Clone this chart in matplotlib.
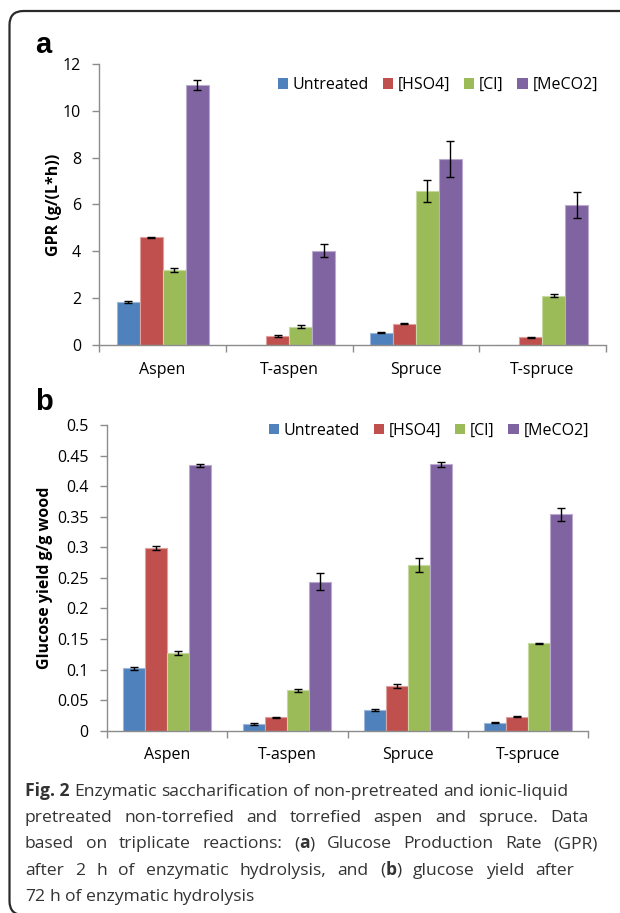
import matplotlib
matplotlib.use("Agg")
import numpy as np
import matplotlib.pyplot as plt
from matplotlib.patches import FancyBboxPatch, Rectangle
from matplotlib.transforms import IdentityTransform
from matplotlib.ticker import MultipleLocator, FuncFormatter

plt.rcParams['font.family'] = ['Open Sans', 'DejaVu Sans']

categories = ["Aspen", "T-aspen", "Spruce", "T-spruce"]
series = ["Untreated", "[HSO4]", "[Cl]", "[MeCO2]"]
colors = ["#4F81BD", "#C0504D", "#9BBB59", "#8064A2"]
edge_colors = ["#9DB7D9", "#E0A09E", "#C6D9A0", "#BBAACF"]

# (a) glucose production rate, g/(L*h)
gpr_untreated = [1.84, 0.02, 0.53, 0.02]
gpr_hso4 = [4.60, 0.38, 0.91, 0.34]
gpr_cl = [3.20, 0.79, 6.56, 2.10]
gpr_meco2 = [11.11, 4.03, 7.93, 5.99]
gpr_err_untreated = [0.03, 0.0, 0.02, 0.0]
gpr_err_hso4 = [0.03, 0.05, 0.02, 0.02]
gpr_err_cl = [0.09, 0.07, 0.47, 0.06]
gpr_err_meco2 = [0.22, 0.27, 0.77, 0.56]

# (b) glucose yield, g/g wood
yld_untreated = [0.102, 0.011, 0.034, 0.013]
yld_hso4 = [0.299, 0.022, 0.073, 0.023]
yld_cl = [0.127, 0.066, 0.271, 0.143]
yld_meco2 = [0.434, 0.244, 0.436, 0.354]
yld_err_untreated = [0.003, 0.002, 0.001, 0.001]
yld_err_hso4 = [0.003, 0.001, 0.003, 0.001]
yld_err_cl = [0.004, 0.003, 0.012, 0.001]
yld_err_meco2 = [0.002, 0.014, 0.004, 0.011]

caption_lines = [
    "*Fig. 2* Enzymatic saccharification of non-pretreated and ionic-liquid",
    "pretreated non-torrefied and torrefied aspen and spruce. Data",
    "based on triplicate reactions: (*a*) Glucose Production Rate (GPR)",
    "after 2 h of enzymatic hydrolysis, and (*b*) glucose yield after",
    "72 h of enzymatic hydrolysis",
]
caption_ends = [None, 588, 598, 574, None]

W, H = 620, 913
gray = "#8C8C8C"
fig = plt.figure(figsize=(W / 100, H / 100), dpi=100)


def fx(x):
    return x / W


def fy(y):
    return 1 - y / H


def make_axes(x0, x1, ytop, ybot):
    return fig.add_axes([fx(x0), fy(ybot), fx(x1 - x0), (ybot - ytop) / H])


def draw_panel(ax, vals, errs, ymax, ystep, fmt):
    x = np.arange(len(categories))
    w = 0.182
    for i, (v, e) in enumerate(zip(vals, errs)):
        pos = x + (i - 1.5) * w
        ax.bar(pos, v, width=w, color=colors[i], edgecolor=edge_colors[i],
               linewidth=0.8, zorder=2)
        m = np.array(e) > 0
        ax.errorbar(pos[m], np.array(v)[m], yerr=np.array(e)[m], fmt='none',
                    ecolor='black', elinewidth=1, capsize=2.6, capthick=1, zorder=3)
    ax.set_xlim(-0.5, 3.5)
    ax.set_ylim(0, ymax)
    ax.yaxis.set_major_locator(MultipleLocator(ystep))
    ax.yaxis.set_major_formatter(FuncFormatter(fmt))
    for s in ["top", "right"]:
        ax.spines[s].set_visible(False)
    for s in ["left", "bottom"]:
        ax.spines[s].set_color(gray)
        ax.spines[s].set_linewidth(1.0)
    ax.set_xticks(x)
    ax.set_xticklabels(categories)
    ax.set_xticks(np.arange(-0.5, 4, 1), minor=True)
    ax.tick_params(axis="x", which="major", length=0, pad=12, labelsize=11.5, colors="#000000")
    ax.tick_params(axis="x", which="minor", length=5, width=1, color=gray)
    ax.tick_params(axis="y", length=5, width=1, color=gray, pad=8, labelsize=11.5)
    handles = [Rectangle((0, 0), 1, 1, fc=c, ec="none") for c in colors]
    return handles


ax1 = make_axes(99.3, 605.7, 64, 345)
h = draw_panel(ax1, [gpr_untreated, gpr_hso4, gpr_cl, gpr_meco2],
               [gpr_err_untreated, gpr_err_hso4, gpr_err_cl, gpr_err_meco2],
               12, 2, lambda v, p: "%d" % v)
ax1.legend(h, series, loc="center right", bbox_to_anchor=(fx(598), fy(85)),
           bbox_transform=fig.transFigure, ncol=4, frameon=False,
           handlelength=0.65, handleheight=0.65, handletextpad=0.3,
           columnspacing=0.85, borderpad=0, borderaxespad=0, fontsize=11.5)

ax2 = make_axes(106.7, 588.3, 425, 730.7)
h = draw_panel(ax2, [yld_untreated, yld_hso4, yld_cl, yld_meco2],
               [yld_err_untreated, yld_err_hso4, yld_err_cl, yld_err_meco2],
               0.5, 0.05, lambda v, p: "%g" % round(v, 2))
ax2.legend(h, series, loc="center right", bbox_to_anchor=(fx(589), fy(430.7)),
           bbox_transform=fig.transFigure, ncol=4, frameon=False,
           handlelength=0.65, handleheight=0.65, handletextpad=0.3,
           columnspacing=0.85, borderpad=0, borderaxespad=0, fontsize=11.5)

fig.text(fx(54), fy(205), "GPR (g/(L*h))", rotation=90, ha="center", va="center",
         fontsize=11.5, fontweight="bold")
fig.text(fx(45.5), fy(578), "Glucose yield g/g wood", rotation=90, ha="center",
         va="center", fontsize=11.5, fontweight="bold")

fig.text(fx(35), fy(53), "a", fontsize=21, fontweight="bold",
         family=["Liberation Sans", "DejaVu Sans"], va="baseline")
fig.text(fx(35), fy(410), "b", fontsize=21, fontweight="bold",
         family=["Liberation Sans", "DejaVu Sans"], va="baseline")

# caption, word by word so lines can be justified
renderer = fig.canvas.get_renderer()
cap_size = 12.6
cap_color = "#333333"


def parse_words(line):
    words, runs, buf, bold = [], [], "", False
    for ch in line + " ":
        if ch == "*":
            if buf:
                runs.append((buf, bold))
                buf = ""
            bold = not bold
        elif ch == " " and not bold:
            if buf:
                runs.append((buf, bold))
                buf = ""
            if runs:
                words.append(runs)
                runs = []
        else:
            buf += ch
    return words


def run_width(s, bold):
    t = fig.text(0, 0, s, fontsize=cap_size, fontweight="bold" if bold else "normal")
    wd = t.get_window_extent(renderer).width
    t.remove()
    return wd


space_w = run_width("a a", False) - run_width("aa", False)
x_left = 25
for i, line in enumerate(caption_lines):
    words = parse_words(line)
    widths = [sum(run_width(s, b) for s, b in wd) for wd in words]
    gap = space_w
    if caption_ends[i] is not None and len(words) > 1:
        gap = max(space_w, (caption_ends[i] - x_left - sum(widths)) / (len(words) - 1))
    x = x_left
    base = 796 + 26.2 * i
    for wd, ww in zip(words, widths):
        xx = x
        for s, b in wd:
            fig.text(fx(xx), fy(base), s, fontsize=cap_size, color=cap_color,
                     fontweight="bold" if b else "normal", va="baseline", ha="left")
            xx += run_width(s, b)
        x += ww + gap

border = FancyBboxPatch((9.5, -2), 900, 904, boxstyle="round,pad=0,rounding_size=14",
                        transform=IdentityTransform(), fill=False, ec="#2a2a2a", lw=1.6)
fig.add_artist(border)

fig.savefig("out.png", dpi=100)
